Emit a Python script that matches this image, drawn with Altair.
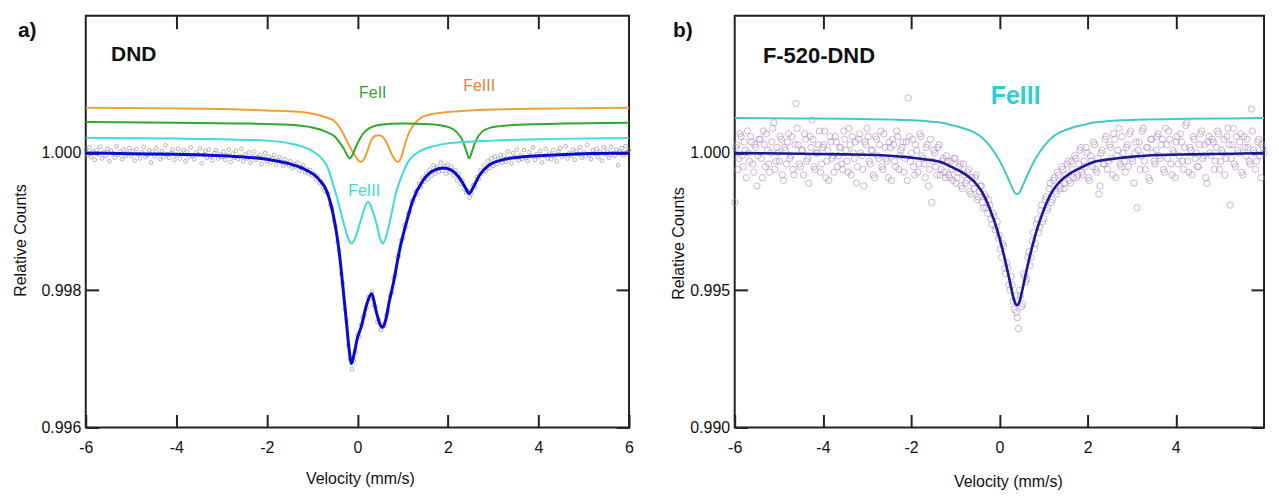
import altair as alt
import numpy as np
import pandas as pd

FONT = "Liberation Sans, Arial, sans-serif"

# ---------------- Panel a (DND) ----------------
# measured counts, offset from 1 in units of 1e-5, evenly spaced channels from -6 to 6 mm/s
A_COUNTS_E5 = [
    5, -3, 8, -6, 2, -10, 4, -2, 9, -8, 1, -4, 6, -12, 3, -1, -7, 10, -3, 2, -9, 5, -5, 0, 7,
    -4, 3, -11, 6, -2, -8, 1, 9, -6, -3, 4, -14, 2, -5, 7, -1, -9, 3, -6, 11, -2, -7, 0, 5, -10,
    -3, 6, -8, -1, 4, -12, 2, -6, 8, -4, -9, 1, -2, 7, -15, -3, 3, -7, 5, -5, -11, 0, 4, -8, -2,
    -6, 2, -10, -3, 5, -13, -1, -7, 3, -9, -4, 6, -12, -2, -8, 1, -14, -5, 2, -10, -6, -3, -16, -7, 0,
    -12, -5, -14, -8, -3, -17, -10, -6, -13, -19, -9, -15,
    -18, -12, -22, -16, -20, -14, -26, -21, -18, -28, -24,
    -30, -25, -33, -30, -38, -34, -44, -42, -50,
    -55, -58, -60, -76, -80, -99, -106, -130, -142, -176, -190, -228, -243, -280, -300, -315, -303, -290, -265,
    -268, -250, -240, -236, -226, -210, -212, -202, -222, -224, -246, -244, -258, -250, -252, -236, -230, -208, -204, -182,
    -178, -152, -150, -128, -125, -105, -108, -88, -86, -70, -72, -56, -60, -45, -50, -36, -42, -30, -38, -24,
    -33, -18, -30, -20, -28, -14, -26, -19, -30, -17, -28, -20, -33, -25, -40, -31, -45, -40, -52, -58,
    -55, -65, -60, -47, -50, -35, -38, -25, -30, -18, -26, -12, -22, -8, -19, -5, -16, -9, -3, -14,
    -4, -13, 2, -8, -15, 0, -6, 5, -11, -3, -9, 4, -7, -12, 1, -5, 8, -10, -2, -6, 3, -14, -4, 6, -8,
    -1, -9, 4, -5, -12, 2, 7, -6, -3, 10, -8, 0, -4, 5, -10, 3, -2, 8, -7, 1, -5, 12, -3, -9, 4,
    -1, 6, -6, 2, -11, 8, -2, 3, -7, 9, 0, -4, 5, -18, 2, 7, -3, 10, 1, 4,
]

A_FIT_V = [-6.0, -5.0, -4.0, -3.0, -2.5, -2.0, -1.6, -1.3, -1.1, -0.95, -0.83, -0.68, -0.54, -0.46,
           -0.39, -0.32, -0.24, -0.18, -0.13, -0.07, 0.0, 0.09, 0.2, 0.31, 0.42, 0.5, 0.56, 0.63,
           0.7, 0.8, 0.93, 1.08, 1.22, 1.45, 1.7, 1.9, 2.1, 2.25, 2.38, 2.47, 2.56, 2.7, 2.9,
           3.2, 3.6, 4.0, 5.0, 6.0]
A_FIT_Y = [1.00000, 0.99999, 0.99998, 0.99996, 0.99994, 0.99991, 0.99986, 0.99980, 0.99974, 0.99968,
           0.99960, 0.99945, 0.99912, 0.99883, 0.99849, 0.99805, 0.99752, 0.99712, 0.99693, 0.99708,
           0.99730, 0.99748, 0.99778, 0.99795, 0.99768, 0.99750, 0.99746, 0.99758, 0.99782, 0.99812,
           0.99858, 0.99898, 0.99930, 0.99960, 0.99975, 0.99978, 0.99974, 0.99964, 0.99950, 0.99941,
           0.99950, 0.99968, 0.99982, 0.99990, 0.99994, 0.99996, 0.99999, 1.00000]

A_FE3A_V = [-6.0, -4.0, -3.0, -2.0, -1.5, -1.2, -1.0, -0.8, -0.65, -0.54, -0.45, -0.39, -0.28, -0.2,
            -0.13, -0.05, 0.09, 0.23, 0.41, 0.5, 0.56, 0.63, 0.71, 0.86, 1.0, 1.15, 1.37, 1.7, 2.0,
            3.0, 4.0, 6.0]
A_FE3A_Y = [1.00022, 1.00021, 1.00020, 1.00018, 1.00014, 1.00009, 1.00003, 0.99993, 0.99978, 0.99955,
            0.99935, 0.99920, 0.99892, 0.99875, 0.99868, 0.99876, 0.99905, 0.99929, 0.99900, 0.99876,
            0.99868, 0.99877, 0.99898, 0.99944, 0.99970, 0.99990, 1.00002, 1.00010, 1.00014, 1.00018,
            1.00020, 1.00022]

A_FE2_V = [-6.0, -4.0, -2.5, -1.5, -1.0, -0.7, -0.5, -0.39, -0.3, -0.23, -0.17, -0.11, -0.04, 0.04,
           0.2, 0.5, 1.0, 1.6, 2.0, 2.2, 2.33, 2.41, 2.47, 2.53, 2.61, 2.74, 2.95, 3.3, 4.0, 6.0]
A_FE2_Y = [1.00045, 1.00044, 1.00043, 1.00041, 1.00037, 1.00031, 1.00024, 1.00015, 1.00006, 0.99997,
           0.99992, 0.99997, 1.00008, 1.00019, 1.00033, 1.00041, 1.00043, 1.00042, 1.00038, 1.00030,
           1.00017, 1.00002, 0.99992, 1.00002, 1.00017, 1.00030, 1.00037, 1.00040, 1.00042, 1.00044]

A_FE3B_V = [-6.0, -4.0, -3.0, -2.0, -1.3, -0.9, -0.7, -0.54, -0.42, -0.32, -0.17, -0.06, 0.0, 0.07,
            0.14, 0.2, 0.31, 0.4, 0.49, 0.58, 0.67, 0.76, 0.83, 0.9, 0.96, 1.03, 1.15, 1.27, 1.4,
            1.6, 1.9, 2.5, 3.5, 4.5, 6.0]
A_FE3B_Y = [1.00066, 1.00065, 1.00064, 1.00062, 1.00060, 1.00056, 1.00052, 1.00048, 1.00040, 1.00029,
            1.00009, 0.99997, 0.99991, 0.99987, 0.99990, 0.99999, 1.00019, 1.00025, 1.00026, 1.00022,
            1.00012, 0.99998, 0.99990, 0.99987, 0.99992, 1.00008, 1.00031, 1.00043, 1.00051, 1.00056,
            1.00059, 1.00062, 1.00064, 1.00065, 1.00066]

A_LABELS = ["DND", "FeII", "FeIII", "FeIII"]
A_LABEL_V = [-4.94, 0.34, 2.69, 0.15]
A_LABEL_Y = [1.00143, 1.00088, 1.00098, 0.99945]

# ---------------- Panel b (F-520-DND) ----------------
# measured counts, offset from 1 in units of 1e-4 (channels -6 ... 6, step 0.048)
B_COUNTS_E4 = [
    -18, 3, -2, 6, -5, 1, 8, -3, 4, -7, 2, -1, 5, -9, 3, 7, -4, 0, 9, -6, 2, -3, 5, -10, 1,
    4, -2, 6, -8, 18, 3, -5, 1, 7, -3, -11, 2, 5, -6, 0, 8, -4, 3, -9, 1, 6, -2, -7, 4, -1,
    2, -6, 5, -3, 9, -8, 0, 4, -5, 7, -1, -12, 3, 6, -4, 1, -9, 5, -2, 8, -6, 2, -3, 4, -10,
    3, -5, 6, -1, 2, -7, 4, 20, -3, 5, -8, 1, -4, 6, -2, -9, 3, -6, -18, 1, -5, 2, -8, -3, -7,
    -1, -8, -3, -10, -2, -9, -5, -12, -4, -11, -7, -14, -9, -13, -8, -16, -12, -18, -15, -20, -17, -24, -22, -28, -25,
    -30, -38, -34, -44, -42, -50, -48, -57, -58, -64, -52, -55, -45, -46, -36, -38, -29, -33, -24, -27, -19, -24, -16, -20, -11, -17,
    -9, -15, -8, -13, -6, -11, -4, -10, -3, -9, -2, -8, 1, -7, -3, 2, -9, -1, -5, 3, -7, -15, 0, -4, 5,
    -6, 3, -2, 7, -9, 1, -4, 6, -3, 2, -5, 8, -3, 0, -20, 4, -1, 9, -6, 2, -10, 5, -3, 1, 7,
    -2, 5, -7, 3, 8, -4, 1, -9, 6, -1, 4, -6, 10, -3, 2, -8, 5, 0, -5, 7, -2, 3, -11, 6, -1,
    4, -3, 8, -6, 1, 5, -2, 9, -19, 3, -4, 6, 0, 7, -8, 2, 5, -3, 16, 1, -6, 4, -1, 3, 0,
]
# interleaved channels (-5.976 ... 5.976, step 0.048)
B_COUNTS2_E4 = [
    2, -6, 7, -1, 4, -9, 0, 6, -4, 3, -12, 5, -2, 8, -5, 1, -7, 4, 11, -3, 0, 6, -8, 2, -4,
    7, -1, -6, 3, 9, -4, 1, -8, 5, -2, 6, 12, -5, 0, 3, -7, 2, 8, -3, -10, 4, -1, 6, -5, 2,
    -4, 8, 1, -7, 3, 6, -2, -11, 5, 0, -6, 4, 9, -3, 1, -8, 6, -1, 3, -5, 7, -2, -9, 2, 5,
    -3, 8, -6, 1, 4, -2, -10, 6, 0, -5, 3, -7, 7, -1, -4, 2, -12, 5, -3, 0, -8, 3, -6, -2, -9,
    -3, -9, -6, -2, -11, -7, -4, -13, -8, -10, -6, -15, -11, -9, -17, -14, -12, -20, -16, -22, -19, -26, -23, -27, -31,
    -35, -33, -42, -40, -48, -45, -54, -52, -60, -50, -56, -44, -47, -38, -41, -32, -35, -26, -29, -21, -25, -17, -21, -13, -18,
    -10, -14, -7, -12, -5, -13, -8, -3, -11, -6, -1, -9, -4, 2, -8, -5, 0, -10, -3, 4, -6, -2, -12, 1, -4,
    6, -3, 2, -8, 5, -1, 9, -5, 0, -7, 3, 7, -2, -11, 4, 1, -6, 8, -3, 2, -9, 5, 0, -4, 6,
    -1, 3, -6, 9, -2, 5, -8, 0, 4, -4, 7, -3, 2, 11, -7, 1, 6, -2, -5, 3, 8, -1, -9, 4, 0,
    5, -6, 2, 7, -3, 0, -8, 6, 3, -2, 9, -5, 1, 4, -7, 6, -1, 2, -4, 8, 0, -3, 5, -9, 2,
]

B_FIT_V = [-6.0, -4.5, -3.5, -2.5, -2.0, -1.6, -1.3, -1.1, -0.85, -0.6, -0.4, -0.2, -0.05, 0.1, 0.2,
           0.28, 0.34, 0.40, 0.46, 0.52, 0.6, 0.7, 0.85, 1.0, 1.2, 1.4, 1.65, 1.9, 2.1, 2.4, 2.8,
           3.3, 4.3, 5.3, 6.0]
B_FIT_Y = [1.00000, 0.99997, 0.99995, 0.99990, 0.99983, 0.99975, 0.99965, 0.99950, 0.99930, 0.99900,
           0.99860, 0.99790, 0.99720, 0.99630, 0.99560, 0.99500, 0.99460, 0.99445, 0.99460, 0.99500,
           0.99560, 0.99630, 0.99720, 0.99790, 0.99860, 0.99900, 0.99930, 0.99950, 0.99965, 0.99975,
           0.99983, 0.99990, 0.99995, 0.99997, 1.00000]
B_FE3_Y = [1.00127, 1.00126, 1.00125, 1.00122, 1.00119, 1.00115, 1.00110, 1.00102, 1.00092, 1.00077,
           1.00057, 1.00022, 0.99987, 0.99942, 0.99907, 0.99877, 0.99857, 0.99850, 0.99857, 0.99877,
           0.99907, 0.99942, 0.99987, 1.00022, 1.00057, 1.00077, 1.00092, 1.00102, 1.00110, 1.00115,
           1.00119, 1.00122, 1.00125, 1.00126, 1.00127]

B_LABELS = ["F-520-DND", "FeIII"]
B_LABEL_V = [-4.09, 0.37]
B_LABEL_Y = [1.00355, 1.00209]

X_TICKS = [-6, -4, -2, 0, 2, 4, 6]
B_X_LABELLED = [-6, -4, -2, 0, 2, 4]
X_INNER = [-4, -2, 0, 2, 4]
A_Y_TICKS = [0.996, 0.998, 1.000]
B_Y_TICKS = [0.990, 0.995, 1.000]

# ---------------- tables ----------------
df_a_pts = pd.DataFrame({"v": np.linspace(-6, 6, len(A_COUNTS_E5)),
                         "c": 1 + np.array(A_COUNTS_E5) * 1e-5})
df_b_pts = pd.concat([
    pd.DataFrame({"v": np.linspace(-6, 6, len(B_COUNTS_E4)),
                  "c": 1 + np.array(B_COUNTS_E4) * 1e-4}),
    pd.DataFrame({"v": np.linspace(-5.976, 5.976, len(B_COUNTS2_E4)),
                  "c": 1 + np.array(B_COUNTS2_E4) * 1e-4}),
], ignore_index=True)


def line_df(v, y):
    return pd.DataFrame({"v": v, "c": y})


TICK = "#222222"
common_axis = dict(domain=False, grid=False, tickSize=13, offset=-13, tickWidth=2,
                   tickColor=TICK, labelFont=FONT, labelFontSize=16, labelColor="#111111",
                   titleFont=FONT, titleFontSize=16, titleFontWeight="normal",
                   titleColor="#111111", labelFlush=False)


def panel(pts, pts_style, lines, labels, label_styles, ydomain, yticks, xlabelled, tag,
          width, ytitle_pad, xtitle_pad, title_x, title_y):
    xs = alt.Scale(domain=[-6, 6], nice=False, zero=False)
    ys = alt.Scale(domain=ydomain, nice=False, zero=False)
    base_pts = alt.Chart(pts).mark_point(shape="circle", filled=False, **pts_style).encode(
        x=alt.X("v:Q", scale=xs, axis=alt.Axis(
            orient="bottom", values=xlabelled, labelExpr="datum.value + ''",
            labelPadding=12, title="Velocity (mm/s)", titlePadding=xtitle_pad,
            titleX=title_x, **common_axis)),
        y=alt.Y("c:Q", scale=ys, axis=alt.Axis(
            orient="left", values=yticks, format=".3f", labelPadding=5,
            title="Relative Counts", titlePadding=ytitle_pad, titleY=title_y,
            **common_axis)),
    )
    frame_ticks = alt.Chart(pts).mark_point(opacity=0).encode(
        x=alt.X("v:Q", scale=xs, axis=alt.Axis(orient="top", values=X_INNER, labels=False,
                                               title=None, **common_axis)),
        y=alt.Y("c:Q", scale=ys, axis=alt.Axis(orient="right", values=yticks, labels=False,
                                               title=None, **common_axis)),
    )
    layers = [base_pts, frame_ticks]
    for df, color, sw in lines:
        layers.append(alt.Chart(df).mark_line(color=color, strokeWidth=sw,
                                              interpolate="monotone").encode(
            x=alt.X("v:Q", scale=xs, axis=None),
            y=alt.Y("c:Q", scale=ys, axis=None)))
    for (txt, v, y), st in zip(labels, label_styles):
        layers.append(alt.Chart(pd.DataFrame({"t": [txt], "v": [v], "c": [y]})).mark_text(
            font=FONT, align="center", baseline="middle", **st).encode(
            x=alt.X("v:Q", scale=xs, axis=None),
            y=alt.Y("c:Q", scale=ys, axis=None),
            text="t:N"))
    layers.append(alt.Chart(pd.DataFrame({"t": [tag[0]]})).mark_text(
        font=FONT, align="left", baseline="middle", fontSize=21, fontWeight="bold",
        color="#111111").encode(x=alt.value(tag[1]), y=alt.value(15), text="t:N"))
    return alt.layer(*layers).resolve_axis(x="independent", y="independent").properties(
        width=width, height=413)


panel_a = panel(
    df_a_pts, dict(size=14, strokeWidth=0.7, color="#8a8a8a", opacity=0.9),
    [(line_df(A_FE3B_V, A_FE3B_Y), "#F0A030", 2),
     (line_df(A_FE2_V, A_FE2_Y), "#2FA82F", 2),
     (line_df(A_FE3A_V, A_FE3A_Y), "#40DADA", 2),
     (line_df(A_FIT_V, A_FIT_Y), "#0A0AD0", 3)],
    list(zip(A_LABELS, A_LABEL_V, A_LABEL_Y)),
    [dict(fontSize=21, fontWeight="bold", color="#111111"),
     dict(fontSize=16, color="#3A9A3A"),
     dict(fontSize=16, color="#E8803A"),
     dict(fontSize=16, color="#3FD6D6")],
    [0.996, 1.002], A_Y_TICKS, X_TICKS, ("a)", -68), 545, 12, 15, 275, 225)

panel_b = panel(
    df_b_pts, dict(size=40, strokeWidth=0.8, color="#B08CC8", opacity=0.8),
    [(line_df(B_FIT_V, B_FE3_Y), "#40C8C8", 2),
     (line_df(B_FIT_V, B_FIT_Y), "#1A1A90", 2.6)],
    list(zip(B_LABELS, B_LABEL_V, B_LABEL_Y)),
    [dict(fontSize=22, fontWeight="bold", color="#111111"),
     dict(fontSize=25, fontWeight="bold", color="#2CD0D0")],
    [0.990, 1.005], B_Y_TICKS, B_X_LABELLED, ("b)", -62), 531, 3, 18, 274, 228)

chart = alt.hconcat(panel_a, panel_b, spacing=106, bounds="flush").resolve_scale(
    x="independent", y="independent").properties(
    padding={"left": 3, "top": 5, "right": 0, "bottom": 0}
).configure(font=FONT).configure_view(stroke=TICK, strokeWidth=2)

chart.save("out.html", embed_options={"renderer": "svg", "actions": False})
